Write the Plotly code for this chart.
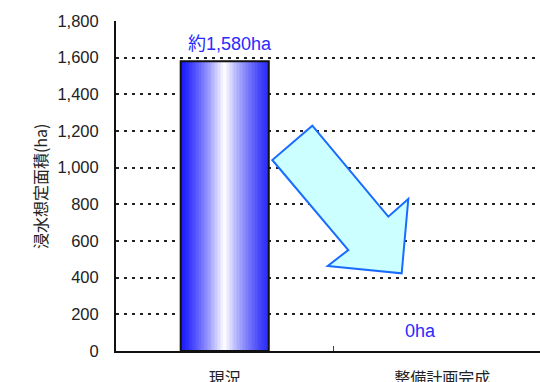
import numpy as np
import plotly.graph_objects as go

# --- data ---
categories = ["現況", "整備計画完成"]
area_ha = [1580, 0]
value_labels = ["約1,580ha", "0ha"]
y_title = "浸水想定面積(ha)"
y_ticks = [0, 200, 400, 600, 800, 1000, 1200, 1400, 1600, 1800]
y_tick_text = ["0", "200", "400", "600", "800", "1,000", "1,200", "1,400", "1,600", "1,800"]

BAR_W = 0.405
N_STRIPS = 60
LATIN = "Liberation Sans"
CJK = "Noto Sans CJK JP"

def blend(c1, c2, t):
    return "rgb(%d,%d,%d)" % tuple(round(a + (b - a) * t) for a, b in zip(c1, c2))

deep_left = (25, 25, 255)
deep_right = (45, 45, 250)
white = (255, 255, 255)

fig = go.Figure()

# gradient fill for the existing-condition bar, built from thin vertical strips
strip_w = BAR_W / N_STRIPS
offsets, widths, colors = [], [], []
for k in range(N_STRIPS):
    pos = (k + 0.5) / N_STRIPS
    if pos < 0.5:
        t = (pos / 0.5) ** 1.3
        col = blend(deep_left, white, t)
    else:
        t = ((1 - pos) / 0.5) ** 1.3
        col = blend(deep_right, white, t)
    offsets.append(-BAR_W / 2 + k * strip_w)
    widths.append(strip_w * 1.05)
    colors.append(col)

fig.add_trace(go.Bar(
    x=[categories[0]] * N_STRIPS, y=[area_ha[0]] * N_STRIPS,
    offset=offsets, width=widths,
    marker=dict(color=colors, line=dict(width=0)),
    hoverinfo="skip", showlegend=False,
))

# bar outline (only non-zero bars get a frame)
nz = [(c, v) for c, v in zip(categories, area_ha) if v > 0]
fig.add_trace(go.Bar(
    x=[c for c, _ in nz], y=[v for _, v in nz], width=BAR_W,
    marker=dict(color="rgba(0,0,0,0)", line=dict(color="#111111", width=2)),
    showlegend=False,
))

fig.update_layout(
    width=540, height=382,
    margin=dict(l=116, r=0, t=21, b=31),
    paper_bgcolor="white", plot_bgcolor="white",
    barmode="overlay",
    font=dict(family=f"{LATIN}, {CJK}", color="#222222"),
    xaxis=dict(
        type="category", categoryorder="array", categoryarray=categories,
        range=[-0.5, 1.45], showgrid=False, automargin=False,
        showline=True, linecolor="#111111", linewidth=2,
        ticks="inside", ticklen=5, tickcolor="#444444", tickson="boundaries",
        tickfont=dict(size=16, family=CJK, color="#222222"),
        ticklabelstandoff=12,
    ),
    yaxis=dict(
        range=[0, 1800], tickvals=y_ticks, ticktext=y_tick_text,
        showgrid=True, gridcolor="#222222", gridwidth=2, griddash="3px,5px",
        showline=True, linecolor="#111111", linewidth=2,
        zeroline=False, ticks="", automargin=False,
        tickfont=dict(size=16.5, family=LATIN, color="#222222"),
        ticklabelstandoff=12,
    ),
)

# y-axis title, placed left of the tick labels
fig.add_annotation(x=-0.179, y=0.5, xref="paper", yref="paper",
                   text=y_title, textangle=-90, showarrow=False,
                   xanchor="center", yanchor="middle",
                   font=dict(size=16, family=CJK, color="#222222"))

# value labels
fig.add_annotation(x=categories[0], y=area_ha[0], text=value_labels[0],
                   showarrow=False, yanchor="bottom", yshift=5, xshift=5,
                   font=dict(size=18, color="#2a2aff", family=f"{LATIN}, {CJK}"))
fig.add_annotation(x=categories[1], y=area_ha[1], text=value_labels[1],
                   showarrow=False, yanchor="bottom", yshift=8, xshift=-22,
                   font=dict(size=18, color="#2a2aff", family=f"{LATIN}, {CJK}"))

# downward arrow marking the reduction (paper coordinates of the plot area)
arrow_px = [(312.3, 125.7), (388.3, 216.7), (408.3, 199), (401.7, 273.3),
            (327.7, 266), (348.3, 250), (272.3, 160)]
x0, x1, y0, y1 = 116, 540, 351, 21
pts = [((px - x0) / (x1 - x0), (y0 - py) / (y0 - y1)) for px, py in arrow_px]
path = "M " + " L ".join(f"{x:.4f},{y:.4f}" for x, y in pts) + " Z"
fig.add_shape(type="path", path=path, xref="paper", yref="paper",
              fillcolor="#ccffff", line=dict(color="#1a6cff", width=2))

fig.write_html("out.html")
